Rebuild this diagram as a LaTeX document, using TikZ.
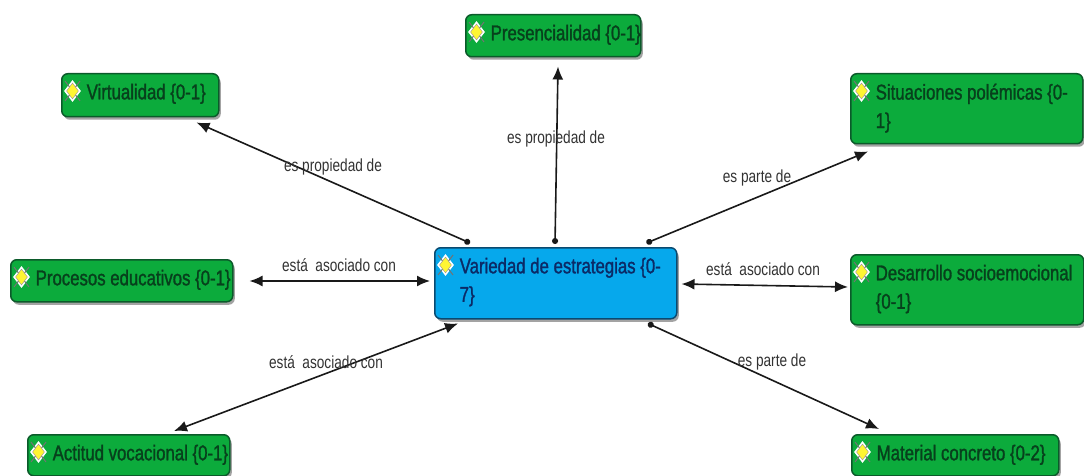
\documentclass[tikz,border=0pt]{standalone}
\usepackage{fontspec}
\setmainfont{Liberation Sans}
\newfontfamily\boxfont[FakeStretch=0.78,FakeBold=1.3]{Liberation Sans}
\newfontfamily\linkfont[FakeStretch=0.78]{Liberation Sans}
\usetikzlibrary{shadows,arrows.meta,shapes.geometric}
\definecolor{cgreen}{HTML}{0CAB3C}
\definecolor{cgreenline}{HTML}{0B5A2A}
\definecolor{cgreentext}{HTML}{07401C}
\definecolor{cblue}{HTML}{06A8EC}
\definecolor{cblueline}{HTML}{0A4A70}
\definecolor{cbluetext}{HTML}{0B2A66}
\definecolor{linkgrey}{HTML}{333333}
\tikzset{
  x=1pt,y=-1pt,
  concept/.style={draw=cgreenline,line width=1.5pt,fill=cgreen,rounded corners=6pt,anchor=north west,
    inner sep=0pt,drop shadow={shadow xshift=2pt,shadow yshift=-3pt,fill=black!60,opacity=.6}},
  mainconcept/.style={concept,draw=cblueline,fill=cblue},
  both/.style={line width=1.6pt,draw=black!90,{Latex[length=13pt,width=11pt]}-{Latex[length=13pt,width=11pt]}},
  dotted link/.style={line width=1.6pt,draw=black!90,{Circle[length=6pt,width=6pt]}-{Latex[length=13pt,width=11pt]}},
  linklabel/.style={font=\linkfont\fontsize{17.5}{20}\selectfont,text=linkgrey,inner sep=0pt},
  iconhalo/.style={diamond,fill=white,inner sep=0pt,minimum width=17pt,minimum height=22pt},
  icondia/.style={diamond,fill=yellow!80!white,draw=black!40,line width=.4pt,inner sep=0pt,minimum width=12pt,minimum height=16pt},
  iconcross/.style={draw=black!55,line width=1pt},
}
% name, x, y, w, h, style, text colour, text
\newcommand{\conceptbox}[8]{%
  \node[#6,minimum width=#4pt,minimum height=#5pt] (#1) at (#2,#3)
    {\hspace*{25pt}\rlap{\parbox[c][#5pt][t]{400pt}{\vspace{10pt}\raggedright\boxfont\fontsize{21.5}{28.5}\selectfont\color{#7}#8}}\hspace*{\dimexpr#4pt-25pt}};
  \node[iconhalo] (#1halo) at ([shift={(11.5,18)}]#1.north west) {};
  \draw[iconcross] ([shift={(4,8)}]#1.north west) -- ([shift={(19,28)}]#1.north west);
  \draw[iconcross] ([shift={(19,8)}]#1.north west) -- ([shift={(4,28)}]#1.north west);
  \node[icondia] (#1icon) at (#1halo) {};
}
\begin{document}
\begin{tikzpicture}
\useasboundingbox (0,0) rectangle (1084,476);
\fill[white] (0,0) rectangle (1084,476);
\conceptbox{pres}{465}{14}{175}{42}{concept}{cgreentext}{Presencialidad \{0-1\}}
\conceptbox{virt}{61}{73}{157}{43}{concept}{cgreentext}{Virtualidad \{0-1\}}
\conceptbox{situ}{850}{73}{232}{70}{concept}{cgreentext}{Situaciones polémicas \{0-\\1\}}
\conceptbox{proc}{10}{259}{222}{42}{concept}{cgreentext}{Procesos educativos \{0-1\}}
\conceptbox{desa}{850}{254}{233}{70}{concept}{cgreentext}{Desarrollo socioemocional\\\{0-1\}}
\conceptbox{acti}{27}{434}{202}{41}{concept}{cgreentext}{Actitud vocacional \{0-1\}}
\conceptbox{mate}{851}{434}{207}{41}{concept}{cgreentext}{Material concreto \{0-2\}}
\conceptbox{main}{434}{247}{242}{71}{mainconcept}{cbluetext}{Variedad de estrategias \{0-\\7\}}

\draw[dotted link] ([shift={(36,-4)}]main.north west) -- ([shift={(-23,5)}]virt.south east);
\draw[dotted link] ([shift={(121,-3)}]main.north west) -- ([shift={(93,9)}]pres.south west);
\draw[dotted link] ([shift={(-31,-4)}]main.north east) -- ([shift={(18,7)}]situ.south west);
\draw[both] ([shift={(-4,34)}]main.north west) -- ([shift={(16,22)}]proc.north east);
\draw[both] ([shift={(4,37)}]main.north east) -- ([shift={(-2,33)}]desa.north west);
\draw[both] ([shift={(24,4)}]main.south west) -- ([shift={(147,-3)}]acti.north west);
\draw[dotted link] ([shift={(214,4)}]main.south west) -- ([shift={(28,-5)}]mate.north west);

\node[linklabel] (l1) at (333,167) {es propiedad de};
\node[linklabel] (l2) at (556,139) {es propiedad de};
\node[linklabel] (l3) at (757,178) {es parte de};
\node[linklabel] (l4) at (339,265) {está\ \ asociado con};
\node[linklabel] (l5) at (763,269) {está\ \ asociado con};
\node[linklabel] (l6) at (326,362) {está\ \ asociado con};
\node[linklabel] (l7) at (772,362) {es parte de};
\end{tikzpicture}
\end{document}
